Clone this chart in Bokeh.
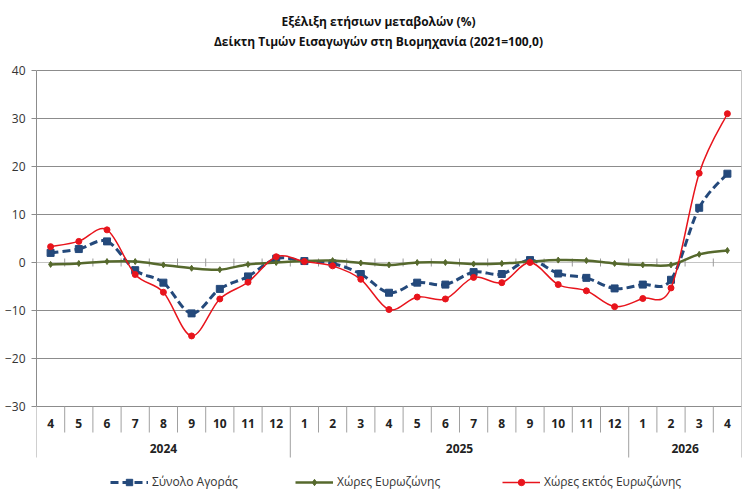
import numpy as np
from bokeh.plotting import figure
from bokeh.models import Range1d, FixedTicker, Legend, LegendItem, ColumnDataSource, Span
from bokeh.core.properties import value
from bokeh.embed import file_html
from bokeh.resources import INLINE

# ---- data -------------------------------------------------------------
title_lines = ["Εξέλιξη ετήσιων μεταβολών (%)",
               "Δείκτη Τιμών Εισαγωγών στη Βιομηχανία (2021=100,0)"]

months = ["4", "5", "6", "7", "8", "9", "10", "11", "12",
          "1", "2", "3", "4", "5", "6", "7", "8", "9", "10", "11", "12",
          "1", "2", "3", "4"]
years = ["2024"] * 9 + ["2025"] * 12 + ["2026"] * 4

total_market = [2.0, 2.8, 4.4, -1.6, -4.2, -10.6, -5.5, -2.9, 0.8,
                0.3, -0.2, -2.4, -6.3, -4.2, -4.6, -2.0, -2.4, 0.5, -2.3, -3.2, -5.4,
                -4.6, -3.6, 11.4, 18.5]
eurozone = [-0.4, -0.2, 0.2, 0.2, -0.5, -1.2, -1.5, -0.4, 0.0,
            0.3, 0.4, -0.1, -0.5, 0.0, 0.0, -0.3, -0.2, 0.2, 0.5, 0.4, -0.2,
            -0.5, -0.5, 1.7, 2.5]
non_eurozone = [3.3, 4.4, 6.8, -2.5, -6.2, -15.3, -7.6, -4.1, 1.2,
                0.2, -0.7, -3.5, -9.8, -7.2, -7.6, -3.1, -4.2, 0.0, -4.6, -5.9, -9.2,
                -7.5, -5.3, 18.6, 31.0]

series_names = ["Σύνολο Αγοράς", "Χώρες Ευρωζώνης", "Χώρες εκτός Ευρωζώνης"]
y_ticks = [-30, -20, -10, 0, 10, 20, 30, 40]

# ---- layout -----------------------------------------------------------
W, H = 750, 501
LEFT, RIGHT = 36, 9
TOP_PX, BOT_PX = 70, 406                # canvas rows of the 40 and -30 gridlines
Y_MAX, Y_MIN = y_ticks[-1], y_ticks[0]
PPU = (BOT_PX - TOP_PX) / (Y_MAX - Y_MIN)
n = len(months)
PPC = (W - LEFT - RIGHT) / n


def yv(py):
    """Data value sitting at canvas row py."""
    return Y_MAX - (py - TOP_PX) / PPU


def xv(px):
    return (px - LEFT) / PPC


FONT = value("Open Sans")
GRID = "#8c8c8c"
SEP = "#a0a0a0"

p = figure(width=W, height=H, output_backend="svg", toolbar_location=None,
           x_range=Range1d(0, n), y_range=Range1d(yv(H), yv(0)),
           x_axis_location=None, min_border_left=LEFT, min_border_right=RIGHT,
           min_border_top=0, min_border_bottom=0)
p.outline_line_color = None
p.background_fill_color = "white"

# y axis
yax = p.yaxis[0]
yax.ticker = FixedTicker(ticks=y_ticks)
yax.bounds = (Y_MIN, Y_MAX)
yax.axis_line_color = GRID
yax.major_tick_line_color = GRID
yax.major_tick_out = 5
yax.major_tick_in = 0
yax.minor_tick_line_color = None
yax.major_label_standoff = 6
yax.major_label_text_font = "Open Sans"
yax.major_label_text_font_size = "12px"
yax.major_label_text_color = "#333333"

p.xgrid.visible = False
p.ygrid.ticker = FixedTicker(ticks=[t for t in y_ticks if t != 0])
p.ygrid.grid_line_color = GRID
p.add_layout(Span(location=0, dimension="width", line_color="#c4c4c4",
                  line_width=1, level="underlay"))

# category axis: separators, labels
bounds = np.arange(n + 1)
year_edges = [0] + [i for i in range(1, n) if years[i] != years[i - 1]] + [n]
short = [b for b in bounds if b not in year_edges]
p.segment(x0=short, y0=[Y_MIN] * len(short), x1=short, y1=[yv(432)] * len(short),
          line_color=SEP, line_width=1)
p.segment(x0=year_edges, y0=[Y_MIN] * len(year_edges), x1=year_edges,
          y1=[yv(457)] * len(year_edges), line_color=SEP, line_width=1)
# right frame edge
p.segment(x0=[n], y0=[Y_MAX], x1=[n], y1=[Y_MIN], line_color=GRID, line_width=1)
# cross ticks on the zero line
inner = list(range(1, n))
p.segment(x0=inner, y0=[yv(262 - 4)] * len(inner), x1=inner, y1=[yv(262 + 4)] * len(inner),
          line_color="#9a9a9a", line_width=1)

xc = np.arange(n) + 0.5
p.text(x=xc, y=[yv(423)] * n, text=months, text_font=FONT, text_font_style="bold",
       text_font_size="12px", text_color="#222222", text_align="center",
       text_baseline="middle")
year_names = [years[a] for a in year_edges[:-1]]
year_x = [(a + b) / 2 for a, b in zip(year_edges[:-1], year_edges[1:])]
p.text(x=year_x, y=[yv(448)] * len(year_x), text=year_names, text_font=FONT,
       text_font_style="bold", text_font_size="12px", text_color="#222222",
       text_align="center", text_baseline="middle")

# title
p.text(x=[xv(378)] * 2, y=[yv(21), yv(41)], text=title_lines, text_font=FONT,
       text_font_style="bold", text_font_size="12px", text_color="#111111",
       text_align="center", text_baseline="middle")


# ---- smoothed series --------------------------------------------------
def bezier_source(vals, t=1 / 6):
    ys = np.asarray(vals, dtype=float)
    xs = xc
    m = len(ys)
    d = dict(x0=[], y0=[], x1=[], y1=[], cx0=[], cy0=[], cx1=[], cy1=[])
    for i in range(m - 1):
        a = max(i - 1, 0)
        b = min(i + 2, m - 1)
        d["x0"].append(xs[i]); d["y0"].append(ys[i])
        d["x1"].append(xs[i + 1]); d["y1"].append(ys[i + 1])
        d["cx0"].append(xs[i] + (xs[i + 1] - xs[a]) * t)
        d["cy0"].append(ys[i] + (ys[i + 1] - ys[a]) * t)
        d["cx1"].append(xs[i + 1] - (xs[b] - xs[i]) * t)
        d["cy1"].append(ys[i + 1] - (ys[b] - ys[i]) * t)
    return ColumnDataSource(d)


styles = [
    dict(vals=total_market, color="#24497B", width=3, dash="8 4", marker="square", size=7),
    dict(vals=eurozone, color="#56692D", width=2.5, dash="solid", marker="diamond", size=6),
    dict(vals=non_eurozone, color="#E8141C", width=1.5, dash="solid", marker="circle", size=6),
]

items = []
for name, st in zip(series_names, styles):
    br = p.bezier(x0="x0", y0="y0", x1="x1", y1="y1", cx0="cx0", cy0="cy0",
                  cx1="cx1", cy1="cy1", source=bezier_source(st["vals"]),
                  line_color=st["color"], line_width=st["width"], line_dash=st["dash"])
    sr = p.scatter(x=xc, y=st["vals"], marker=st["marker"], size=st["size"],
                   fill_color=st["color"], line_color=st["color"])
    items.append(LegendItem(label=name, renderers=[br, sr]))

# ---- legends ----------------------------------------------------------
for item, px in zip(items, [110, 295, 502]):
    leg = Legend(items=[item], location=(px - LEFT, 11), orientation="horizontal",
                 background_fill_alpha=0, border_line_color=None, padding=0,
                 margin=0, glyph_width=38, glyph_height=16, label_height=16,
                 label_standoff=4, label_text_font="Open Sans",
                 label_text_font_size="12px", label_text_color="#333333")
    p.add_layout(leg)

open("out.html", "w").write(file_html(p, INLINE))
